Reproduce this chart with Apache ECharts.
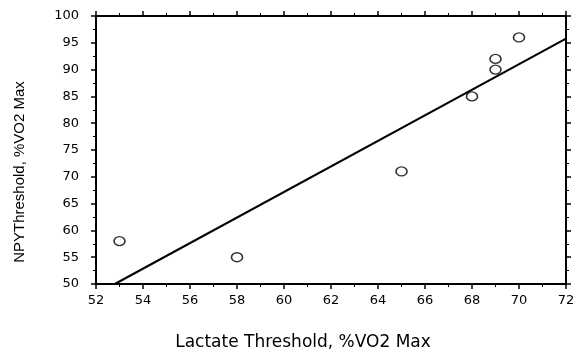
<!DOCTYPE html>
<html>
<head>
<meta charset="utf-8">
<script src="https://cdn.jsdelivr.net/npm/echarts@6/dist/echarts.min.js"></script>
<style>
  html, body { margin: 0; padding: 0; background: #fff; }
  #chart { width: 573px; height: 352px; }
</style>
</head>
<body>
<div id="chart"></div>
<script>
// measured points
const lactate = [53, 58, 65, 68, 69, 69, 70]
const npy = [58, 55, 71, 85, 90, 92, 96]
// regression line ends
const fitX = [52.8, 72]
const fitY = [50, 95.8]

const chart = echarts.init(document.getElementById('chart'), null, { renderer: 'canvas' })

const axisCommon = {
  axisLine: { show: true, lineStyle: { color: '#000', width: 2 } },
  axisTick: { show: true, length: 5, lineStyle: { color: '#000', width: 1.5 } },
  minorTick: { show: true, splitNumber: 2, length: 3, lineStyle: { color: '#000', width: 1 } },
  splitLine: { show: false },
}

const option = {
  animation: false,
  grid: { left: 96, right: 7, top: 16, bottom: 68, containLabel: false, outerBoundsMode: 'none' },
  xAxis: [
    {
      ...axisCommon,
      type: 'value', min: 52, max: 72, interval: 2, position: 'bottom',
      axisLabel: { color: '#000', fontFamily: 'DejaVu Sans', fontSize: 13, margin: 10 },
      name: 'Lactate Threshold, %VO2 Max', nameLocation: 'middle', nameGap: 50,
      // title sits a bit left of the plot centre
      nameTextStyle: { color: '#000', fontFamily: 'DejaVu Sans', fontSize: 17, padding: [0, 56, 0, 0] },
    },
    {
      ...axisCommon,
      type: 'value', min: 52, max: 72, interval: 2, position: 'top',
      axisLabel: { show: false },
    },
  ],
  yAxis: [
    {
      ...axisCommon,
      type: 'value', min: 50, max: 100, interval: 5, position: 'left',
      axisLabel: { color: '#000', fontFamily: 'DejaVu Sans', fontSize: 13, margin: 17 },
      name: 'NPYThreshold, %VO2 Max', nameLocation: 'middle', nameGap: 69,
      nameTextStyle: { color: '#000', fontFamily: 'Liberation Sans', fontSize: 15, padding: [0, 44, 0, 0] },
    },
    {
      ...axisCommon,
      type: 'value', min: 50, max: 100, interval: 5, position: 'right',
      axisLabel: { show: false },
    },
  ],
  series: [
    {
      type: 'line',
      data: fitX.map((x, i) => [x, fitY[i]]),
      symbol: 'none',
      lineStyle: { color: '#000', width: 2 },
    },
    {
      type: 'scatter',
      data: lactate.map((x, i) => [x, npy[i]]),
      symbol: 'circle',
      symbolSize: [11, 9],
      itemStyle: { color: '#fff', borderColor: '#000', borderWidth: 1.5 },
    },
  ],
}

chart.setOption(option)
</script>
</body>
</html>
